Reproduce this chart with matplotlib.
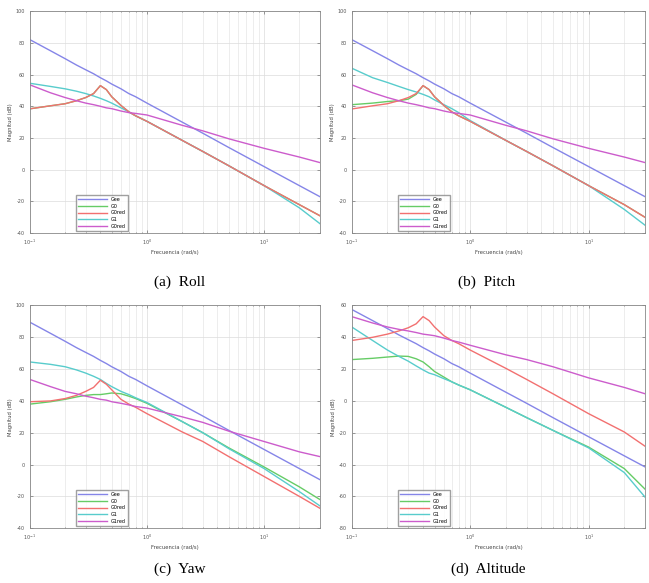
import matplotlib
matplotlib.use("Agg")
import matplotlib.pyplot as plt

plt.rcParams["axes.unicode_minus"] = False

# frequency samples (rad/s) at which the magnitudes were read
freq = [0.1, 0.15, 0.2, 0.25, 0.3, 0.35, 0.4, 0.45, 0.5, 0.6, 0.7, 0.8,
        1, 2, 3, 5, 10, 20, 30]

series_names = ["Gee", "G0", "G0red", "G1", "G1red"]
colors = ["#8585e8", "#66cc66", "#f27070", "#58cccc", "#cc5ccc"]

# (a) Roll
roll_gee = [82, 75, 70, 66, 63, 60.5, 58, 56, 54, 51, 48, 46, 42, 30, 23, 14, 2, -10, -17]
roll_g0red = [38.4, 40.3, 41.6, 43.5, 45.5, 48, 53, 50.5, 46, 40.5, 36.5, 34, 30.5, 18.5, 11.5, 2.5, -10, -22, -29]
roll_g0 = roll_g0red
roll_g1 = [54.5, 52.5, 51, 49.5, 48, 46.5, 45, 43.5, 42, 39, 36.5, 34, 30.5, 18.5, 11.5, 2.5, -10, -24, -34]
roll_g1red = [53.5, 48.5, 45.5, 43.5, 42, 41, 40, 39, 38.5, 37, 36, 35.5, 34.5, 28, 24.5, 19.5, 13.5, 8, 4.5]

# (b) Pitch
pitch_gee = roll_gee
pitch_g0 = [41, 42, 43, 43.5, 44.5, 47.5, 53, 50.5, 46, 40.5, 36.5, 34, 30.5, 18.5, 11.5, 2.5, -10, -22, -30]
pitch_g0red = [38.3, 40.3, 41.6, 43.5, 45.5, 48, 53, 50.5, 46, 40.5, 36.5, 34, 30.5, 18.5, 11.5, 2.5, -10, -22, -30]
pitch_g1 = [64, 58, 55, 52.5, 50.5, 49, 47.5, 46, 44, 41, 38.5, 36, 31, 18.5, 11.5, 2.5, -10, -25, -35]
pitch_g1red = roll_g1red

# (c) Yaw
yaw_gee = [89.5, 82.5, 77.5, 73.5, 70.5, 68, 65.5, 63.5, 61.5, 58.5, 55.5, 53.5, 49.5, 37.5, 30.5, 21.5, 9.5, -2.5, -9.5]
yaw_g0 = [38, 39.5, 41, 42.5, 43.5, 44, 44, 44.5, 45, 44.5, 43, 41.5, 38.5, 27, 20, 10.5, -1.5, -14, -22]
yaw_g0red = [39.5, 40, 41.5, 43.5, 46, 48.5, 53, 50.5, 47, 41, 38, 36, 32, 20.5, 14.5, 5, -7.5, -20, -27.5]
yaw_g1 = [64.5, 63, 61.5, 59.5, 57.5, 55.5, 53.5, 51, 49, 46, 44, 42, 39, 27, 20, 10, -2.5, -17, -26]
yaw_g1red = [53.5, 49, 46, 44.5, 43, 42, 41, 40.5, 39.5, 38.5, 37.5, 36.5, 35.5, 30, 26.5, 21, 14.5, 8, 5]

# (d) Altitude
alt_gee = [57.5, 50.5, 45.5, 41.5, 38.5, 36, 33.5, 31.5, 29.5, 26.5, 23.5, 21.5, 17.5, 5.5, -1.5, -10.5, -22.5, -34.5, -41.5]
alt_g0 = [26, 26.8, 27.6, 28.2, 28, 26.5, 24.5, 21.5, 18.5, 15, 12, 10, 7, -4, -10.5, -18.5, -29, -42.5, -55.5]
alt_g0red = [38, 40, 42, 44, 46, 48.5, 53, 50.5, 46.5, 41, 38, 36, 32, 20.5, 13.5, 4.5, -8, -19.5, -28.5]
alt_g1 = [46.5, 38, 32, 28, 25, 22, 19.5, 17.5, 16.5, 14, 12, 10, 7, -4, -10.5, -18.5, -29.5, -45, -60.5]
alt_g1red = [53, 49, 46.5, 45, 44, 43, 42, 41.5, 41, 39.5, 38, 37, 35, 29, 26, 21.5, 14.5, 8.5, 4.5]

panels = [
    ("(a)  Roll", [roll_gee, roll_g0, roll_g0red, roll_g1, roll_g1red],
     ["Gee", "G0", "G0red", "G1", "G0red"], (-40, 100)),
    ("(b)  Pitch", [pitch_gee, pitch_g0, pitch_g0red, pitch_g1, pitch_g1red],
     series_names, (-40, 100)),
    ("(c)  Yaw", [yaw_gee, yaw_g0, yaw_g0red, yaw_g1, yaw_g1red],
     series_names, (-40, 100)),
    ("(d)  Altitude", [alt_gee, alt_g0, alt_g0red, alt_g1, alt_g1red],
     series_names, (-80, 60)),
]

boxes = [
    [0.046, 0.600, 0.447, 0.381],
    [0.542, 0.600, 0.452, 0.381],
    [0.046, 0.094, 0.447, 0.382],
    [0.542, 0.094, 0.452, 0.382],
]
caption_pos = [(0.277, 0.505), (0.75, 0.505), (0.277, 0.012), (0.752, 0.012)]

fig = plt.figure(figsize=(6.49, 5.83), dpi=100)
for (cap, data, labels, ylim), box, cpos in zip(panels, boxes, caption_pos):
    ax = fig.add_axes(box)
    # draw in order so that red sits over green, as in the original
    order = [0, 1, 3, 2, 4]
    lines = {}
    for i in order:
        (ln,) = ax.plot(freq, data[i], color=colors[i], lw=1.0, label=labels[i])
        lines[i] = ln
    ax.set_xscale("log")
    ax.set_xlim(0.1, 30)
    ax.set_ylim(*ylim)
    ax.set_yticks(range(ylim[0], ylim[1] + 1, 20))
    ax.grid(which="major", color="#dcdcdc", lw=0.5)
    ax.grid(which="minor", axis="x", color="#e6e6e6", lw=0.5)
    ax.tick_params(which="both", direction="in", top=True, right=True,
                   labelsize=3.5, colors="#555555", length=2, width=0.4)
    ax.tick_params(which="minor", length=1)
    for s in ax.spines.values():
        s.set_color("#888888")
        s.set_linewidth(0.6)
    ax.set_xlabel("Frecuencia (rad/s)", fontsize=3.8, color="#444444", labelpad=2)
    ax.set_ylabel("Magnitud (dB)", fontsize=3.8, color="#444444", labelpad=2)
    ax.legend([lines[i] for i in range(5)], labels, loc="lower left",
              bbox_to_anchor=(0.15, 0.0), fontsize=3.5, handlelength=6,
              frameon=True, fancybox=False, edgecolor="#888888",
              borderpad=0.4, labelspacing=0.35)
    fig.text(cpos[0], cpos[1], cap, ha="center", va="bottom",
             fontsize=11, family="Liberation Serif")

fig.savefig("out.png", dpi=100)
